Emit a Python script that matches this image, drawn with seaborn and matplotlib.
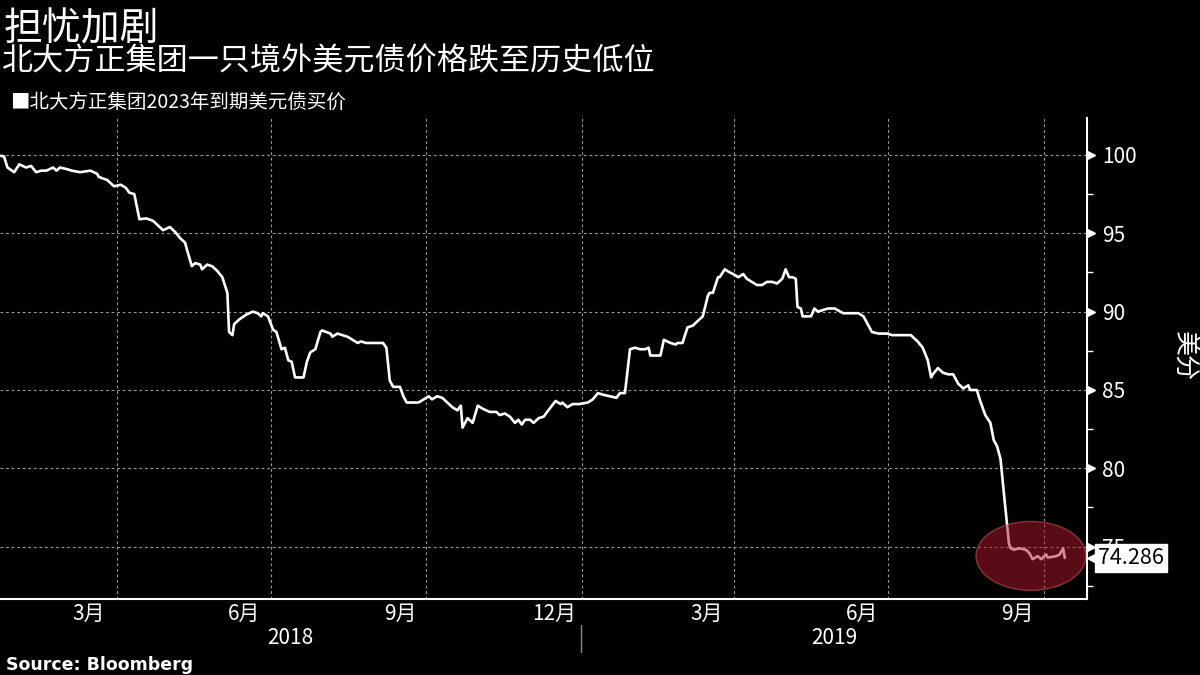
import matplotlib
matplotlib.use("Agg")
import numpy as np
import pandas as pd
import matplotlib.pyplot as plt
import matplotlib.dates as mdates
import matplotlib.transforms as mtransforms
from matplotlib.patches import Ellipse
import seaborn as sns

# ---------------- data ----------------
title = "担忧加剧"
subtitle = "北大方正集团一只境外美元债价格跌至历史低位"
series_name = "北大方正集团2023年到期美元债买价"
source_text = "Source: Bloomberg"
unit_label = "美分"

base_date = "2018-01-01"
days_since_2018 = [
    22, 24, 26, 30, 33, 37, 40, 43, 46, 49, 53, 55, 57, 61, 64, 69, 75, 79, 80, 85,
    89, 93, 96, 98, 101, 104, 108, 112, 115, 118, 122, 125, 128, 131, 132, 135, 137, 140, 141, 144,
    147, 150, 153, 156, 157, 159, 160, 163, 167, 171, 174, 176, 177, 180, 183, 185, 188, 190, 192, 194,
    196, 199, 201, 203, 205, 208, 211, 212, 217, 218, 221, 224, 227, 230, 233, 235, 238, 248, 250, 252,
    254, 258, 260, 262, 266, 269, 272, 275, 277, 280, 283, 286, 289, 292, 294, 295, 298, 301, 304, 307,
    311, 315, 317, 320, 323, 326, 328, 330, 332, 335, 337, 340, 343, 345, 350, 353, 354, 357, 360, 364,
    369, 372, 375, 378, 382, 386, 388, 391, 394, 397, 400, 403, 405, 406, 409, 412, 414, 418, 421, 422,
    425, 428, 431, 434, 437, 440, 441, 443, 446, 447, 450, 453, 455, 458, 461, 463, 466, 469, 472, 475,
    478, 481, 484, 486, 488, 490, 492, 493, 495, 496, 501, 503, 505, 508, 511, 515, 520, 529, 532, 534,
    537, 541, 546, 549, 552, 560, 564, 567, 570, 572, 573, 576, 579, 582, 585, 588, 591, 594, 595, 599,
    601, 604, 607, 609, 611, 613, 615, 617, 618, 619, 621, 624, 628, 630, 632, 635, 637, 640, 641, 646,
    648, 650, 651,
]
bid_price = [
    99.95, 99.9, 99.2, 98.9, 99.4, 99.2, 99.3, 98.9, 99.0, 99.0, 99.2, 99.0, 99.2, 99.1, 99.0, 98.9, 99.0, 98.8, 98.6, 98.4,
    98.0, 98.1, 97.9, 97.6, 97.5, 95.9, 95.95, 95.8, 95.5, 95.2, 95.4, 95.1, 94.7, 94.4, 94.0, 92.9, 93.1, 93.0, 92.7, 93.0,
    92.9, 92.6, 92.2, 91.2, 88.7, 88.5, 89.2, 89.5, 89.8, 90.0, 89.9, 89.7, 89.9, 89.7, 88.85, 88.7, 87.6, 87.7, 86.9, 86.8,
    85.8, 85.8, 85.8, 86.8, 87.4, 87.6, 88.7, 88.8, 88.6, 88.4, 88.6, 88.5, 88.4, 88.2, 88.0, 88.1, 88.0, 88.0, 87.7, 85.6,
    85.2, 85.2, 84.6, 84.2, 84.2, 84.2, 84.4, 84.6, 84.4, 84.6, 84.5, 84.2, 83.9, 83.7, 84.0, 82.6, 83.2, 82.9, 84.0, 83.8,
    83.6, 83.6, 83.4, 83.5, 83.3, 82.9, 83.1, 82.8, 83.1, 83.1, 82.9, 83.2, 83.3, 83.6, 84.3, 84.1, 84.2, 83.9, 84.1, 84.1,
    84.2, 84.4, 84.8, 84.7, 84.6, 84.5, 84.8, 84.8, 87.6, 87.7, 87.6, 87.6, 87.7, 87.2, 87.2, 87.2, 88.2, 88.0, 87.9, 88.0,
    88.0, 89.0, 89.1, 89.4, 89.7, 91.0, 91.2, 91.2, 92.2, 92.2, 92.7, 92.5, 92.4, 92.2, 92.4, 92.1, 91.9, 91.7, 91.7, 91.9,
    91.9, 91.8, 92.1, 92.7, 92.2, 92.2, 92.1, 90.3, 90.2, 89.7, 89.7, 90.2, 90.0, 90.1, 90.2, 90.2, 89.9, 89.9, 89.7, 89.3,
    88.7, 88.6, 88.6, 88.5, 88.5, 88.5, 88.1, 87.7, 86.9, 85.8, 86.0, 86.4, 86.1, 86.0, 86.0, 85.4, 85.1, 85.3, 85.0, 85.0,
    84.3, 83.4, 82.9, 81.8, 81.4, 80.6, 78.4, 76.3, 75.2, 74.9, 74.8, 74.9, 74.8, 74.6, 74.2, 74.4, 74.2, 74.5, 74.3, 74.4,
    74.5, 74.9, 74.286,
]
y_major_ticks = [75, 80, 85, 90, 95, 100]
y_minor_ticks = [72.5, 77.5, 82.5, 87.5, 92.5, 97.5]
label_months = [3, 6, 9, 12]
years = [2018, 2019]

# ---------------- frame ----------------
df = pd.DataFrame({
    "date": pd.Timestamp(base_date) + pd.to_timedelta(days_since_2018, unit="D"),
    "price": bid_price,
})

sns.set_theme(style="dark", rc={
    "axes.facecolor": "black",
    "figure.facecolor": "black",
    "savefig.facecolor": "black",
    "text.color": "white",
    "axes.labelcolor": "white",
    "xtick.color": "white",
    "ytick.color": "white",
})
plt.rcParams["font.family"] = ["Noto Sans CJK SC", "DejaVu Sans"]

fig = plt.figure(figsize=(12, 6.75), dpi=100)
ax = fig.add_axes([0.0, 0.1126, 0.9058, 0.7126])

sns.lineplot(data=df, x="date", y="price", ax=ax, color="white", linewidth=1.9, zorder=3)

x0 = pd.Timestamp(base_date) + pd.Timedelta(days=21.6)
x1 = pd.Timestamp(base_date) + pd.Timedelta(days=664.1)
ax.set_xlim(x0, x1)
ax.set_ylim(71.66, 102.36)
ax.set_xlabel("")
ax.set_ylabel("")

# spines
for s in ["left", "top"]:
    ax.spines[s].set_visible(False)
for s in ["right", "bottom"]:
    ax.spines[s].set_visible(True)
    ax.spines[s].set_color("white")
    ax.spines[s].set_linewidth(1.5)

# x ticks: marks at every month start, labels centred on Mar/Jun/Sep/Dec
ax.xaxis.set_major_locator(mdates.MonthLocator())
ax.xaxis.set_major_formatter(plt.NullFormatter())
ax.xaxis.set_minor_locator(mdates.MonthLocator(bymonth=label_months, bymonthday=16))
ax.xaxis.set_minor_formatter(mdates.DateFormatter("%-m月"))
ax.tick_params(axis="x", which="major", length=5, width=1, color="white", direction="out")
ax.tick_params(axis="x", which="minor", length=0, pad=3, labelsize=15, labelcolor="white")

# y ticks on the right
ax.yaxis.tick_right()
ax.set_yticks(y_major_ticks)
ax.set_yticks(y_minor_ticks, minor=True)
ax.tick_params(axis="y", which="major", length=0, pad=11, labelsize=15, labelcolor="white")
ax.tick_params(axis="y", which="minor", length=4, width=1, color="white", direction="out")
ax.grid(False)

# horizontal dashed grid
grid_kw = dict(color="#9a9a9a", linewidth=0.8, linestyle=(0, (2.5, 2.5)), zorder=1)
for yv in y_major_ticks:
    ax.axhline(yv, **grid_kw)
# vertical dashed grid at quarter starts
for q in pd.date_range(x0, x1, freq="QS-JAN"):
    ax.axvline(q, **grid_kw)

# triangle markers at major y ticks
tr_y = mtransforms.blended_transform_factory(ax.transAxes, ax.transData)
tri_tr = mtransforms.offset_copy(tr_y, fig=fig, x=4, y=0, units="dots")
ax.plot([1.0] * len(y_major_ticks), y_major_ticks, linestyle="none", marker=">",
        markersize=6, color="white", transform=tri_tr, clip_on=False, zorder=5)

# year labels and separator
tr_x = mtransforms.blended_transform_factory(ax.transData, ax.transAxes)
xl = ax.get_xlim()
for yr in years:
    start = max(mdates.date2num(pd.Timestamp(f"{yr}-01-01")), xl[0])
    end = min(mdates.date2num(pd.Timestamp(f"{yr + 1}-01-01")), xl[1])
    ax.text((start + end) / 2, -0.081, str(yr), transform=tr_x, ha="center", va="center",
            fontsize=15, color="white")
for yr in years[1:]:
    xd = mdates.date2num(pd.Timestamp(f"{yr}-01-01"))
    ax.plot([xd, xd], [-0.054, -0.110], transform=tr_x, color="#8a8a8a", linewidth=1, clip_on=False)

# red highlight ellipse around the latest prices
hl_center = mdates.date2num(pd.Timestamp(base_date) + pd.Timedelta(days=631))
ell = Ellipse((hl_center, 74.41), width=65, height=4.4, facecolor="#b3192b", alpha=0.5,
              edgecolor="#e0606a", linewidth=1.0, zorder=4)
ax.add_patch(ell)

# last value tag
last_value = bid_price[-1]
tag_tri = mtransforms.offset_copy(tr_y, fig=fig, x=8, y=0, units="dots")
ax.plot([1.0], [last_value], linestyle="none", marker="<", markersize=12, color="white",
        transform=tag_tri, clip_on=False, zorder=6)
tag_txt = mtransforms.offset_copy(tr_y, fig=fig, x=11, y=0, units="dots")
ax.text(1.0, last_value, f"{last_value:.3f}", transform=tag_txt, ha="left", va="center",
        fontsize=15.5, color="black", zorder=7,
        bbox=dict(boxstyle="square,pad=0.14", facecolor="white", edgecolor="white"))

# titles
fig.text(0.003, 0.9395, title, fontsize=28, color="white", va="baseline", ha="left")
fig.text(0.002, 0.8955, subtitle, fontsize=22.4, fontweight="medium", color="white",
         va="baseline", ha="left")
fig.text(0.008, 0.8400, "■" + series_name, fontsize=14, color="white", va="baseline", ha="left")
fig.text(0.005, 0.0074, source_text, fontsize=12.5, fontweight="bold", color="white",
         va="baseline", ha="left", family=["DejaVu Sans"])

# unit label
fig.text(0.9865, 0.472, unit_label, rotation=270, fontsize=18, color="white",
         ha="center", va="center")

fig.savefig("out.png", dpi=100, facecolor="black")
